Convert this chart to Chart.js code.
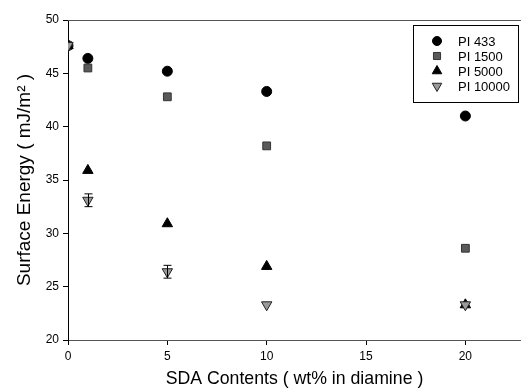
<!DOCTYPE html>
<html lang="en">
<head>
  <meta charset="UTF-8">
  <title>Surface Energy vs SDA Contents</title>
  <script src="https://cdn.jsdelivr.net/npm/chart.js"></script>
  <style>
    html, body { margin: 0; padding: 0; background: #fff; }
    #wrap { width: 521px; height: 390px; }
  </style>
</head>
<body>
  <div id="wrap"><canvas id="myChart" width="521" height="390"></canvas></div>

  <script>
    // data
    const sdaContents = [0, 1, 5, 10, 20];
    const pi433   = [47.6, 46.4, 45.2, 43.3, 41.0];
    const pi1500  = [47.6, 45.5, 42.8, 38.2, 28.6];
    const pi5000  = [47.6, 35.9, 30.9, 26.9, 23.3];
    const pi10000 = [47.6, 33.1, 26.4, 23.3, 23.3];
    const pi10000Err = [0, 0.6, 0.6, 0, 0];
    const seriesNames = ['PI 433', 'PI 1500', 'PI 5000', 'PI 10000'];
    const yTicks = [20, 25, 30, 35, 40, 45, 50];
    const xTicks = [0, 5, 10, 15, 20];

    const FONT = "'Liberation Sans', Arial, sans-serif";

    function pts(ys) {
      return sdaContents.map((x, i) => ({ x: x, y: ys[i] }));
    }

    function drawMarker(ctx, ds, x, y) {
      Chart.helpers.drawPoint(ctx, {
        pointStyle: ds.pointStyle,
        radius: ds.legendRadius,
        rotation: ds.pointRotation || 0,
        borderWidth: ds.pointBorderWidth
      }, x, y);
    }

    // error bars + top frame + boxed legend
    const extras = {
      id: 'extras',
      afterLayout(chart) {
        // let the plot run to the right edge like the original
        const a = chart.chartArea, xs = chart.scales.x;
        a.right = chart.width;
        a.width = a.right - a.left;
        xs.right = a.right;
        xs.width = a.width;
        xs.configure();
      },
      beforeDatasetsDraw(chart) {
        const ctx = chart.ctx;
        const a = chart.chartArea;
        ctx.save();
        ctx.strokeStyle = '#555';
        ctx.lineWidth = 1;
        ctx.beginPath();
        ctx.moveTo(a.left, a.top + 0.5);
        ctx.lineTo(a.right, a.top + 0.5);
        ctx.stroke();
        ctx.restore();
      },
      afterDatasetsDraw(chart) {
        const ctx = chart.ctx;
        const xs = chart.scales.x, ys = chart.scales.y;
        ctx.save();
        ctx.strokeStyle = '#000';
        ctx.lineWidth = 1;
        sdaContents.forEach((x, i) => {
          const e = pi10000Err[i];
          if (!e) return;
          const px = Math.round(xs.getPixelForValue(x)) + 0.5;
          const top = ys.getPixelForValue(pi10000[i] + e);
          const bot = ys.getPixelForValue(pi10000[i] - e);
          ctx.beginPath();
          ctx.moveTo(px, top); ctx.lineTo(px, bot);
          ctx.moveTo(px - 4, top); ctx.lineTo(px + 4, top);
          ctx.moveTo(px - 4, bot); ctx.lineTo(px + 4, bot);
          ctx.stroke();
        });

        // legend
        const bx = 413.5, by = 25.5, bw = 105, bh = 77;
        ctx.fillStyle = '#fff';
        ctx.fillRect(bx, by, bw, bh);
        ctx.strokeStyle = '#000';
        ctx.strokeRect(bx, by, bw, bh);
        ctx.font = '13px ' + FONT;
        ctx.textBaseline = 'middle';
        chart.data.datasets.forEach((ds, i) => {
          const cy = 41 + i * 15;
          ctx.fillStyle = ds.pointBackgroundColor;
          ctx.strokeStyle = ds.pointBorderColor;
          ctx.lineWidth = ds.pointBorderWidth;
          drawMarker(ctx, ds, 437, cy);
          ctx.fillStyle = '#000';
          ctx.fillText(seriesNames[i], 458, cy + 1);
        });
        ctx.restore();
      }
    };

    const ctx = document.getElementById('myChart').getContext('2d');
    const chart = new Chart(ctx, {
      type: 'scatter',
      data: {
        datasets: [
          {
            label: seriesNames[0], data: pts(pi433), order: 3,
            pointStyle: 'circle', pointRadius: 5, legendRadius: 4.5,
            pointBackgroundColor: '#000', pointBorderColor: '#000', pointBorderWidth: 1
          },
          {
            label: seriesNames[1], data: pts(pi1500), order: 2,
            pointStyle: 'rect', pointRadius: 5.5, legendRadius: 5,
            pointBackgroundColor: '#5a5a5a', pointBorderColor: '#333', pointBorderWidth: 1
          },
          {
            label: seriesNames[2], data: pts(pi5000), order: 1,
            pointStyle: 'triangle', pointRadius: 6, legendRadius: 5.5,
            pointBackgroundColor: '#000', pointBorderColor: '#000', pointBorderWidth: 1
          },
          {
            label: seriesNames[3], data: pts(pi10000), order: 0,
            pointStyle: 'triangle', pointRotation: 180, pointRadius: 6, legendRadius: 5.5,
            pointBackgroundColor: '#9a9a9a', pointBorderColor: '#222', pointBorderWidth: 1
          }
        ]
      },
      options: {
        responsive: false,
        animation: false,
        layout: { padding: { top: 20, right: 0, left: 0, bottom: 0 } },
        plugins: {
          legend: { display: false },
          tooltip: { enabled: false }
        },
        scales: {
          x: {
            type: 'linear',
            min: 0, max: 22.8,
            afterFit(s) { s.height = 50; },
            afterBuildTicks(s) { s.ticks = xTicks.map(v => ({ value: v })); },
            ticks: {
              includeBounds: false,
              color: '#000', padding: 4,
              font: { family: FONT, size: 12 }
            },
            grid: { drawOnChartArea: false, drawTicks: true, tickLength: 5, color: '#000' },
            border: { display: true, color: '#555', width: 1 },
            title: {
              display: true, text: 'SDA Contents ( wt% in diamine )',
              color: '#000', font: { family: FONT, size: 17.7 }, padding: { top: 6, bottom: 0 }
            }
          },
          y: {
            min: 20, max: 50,
            afterFit(s) { s.width = 68; },
            afterBuildTicks(s) { s.ticks = yTicks.map(v => ({ value: v })); },
            ticks: {
              color: '#000', padding: 4,
              font: { family: FONT, size: 12 }
            },
            grid: { drawOnChartArea: false, drawTicks: true, tickLength: 5, color: '#000' },
            border: { display: true, color: '#000', width: 1 },
            title: {
              display: true, text: 'Surface Energy ( mJ/m\u00B2 )',
              color: '#000', font: { family: FONT, size: 19 }, padding: { top: 13, bottom: 2 }
            }
          }
        }
      },
      plugins: [extras]
    });
  </script>
</body>
</html>
